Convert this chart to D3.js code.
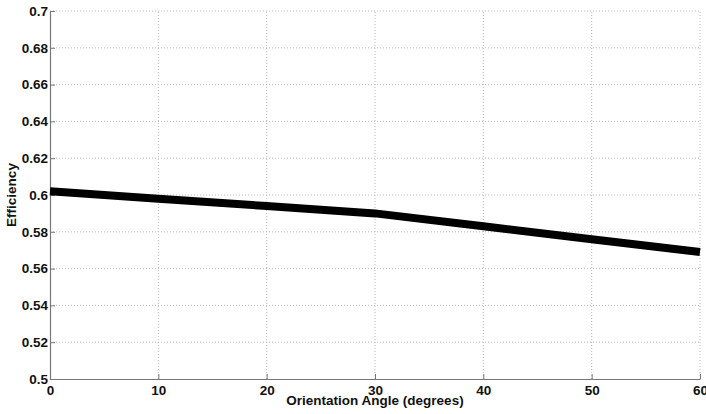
<!DOCTYPE html>
<html>
<head>
<meta charset="utf-8">
<script src="https://cdn.jsdelivr.net/npm/d3@7"></script>
<style>
  body { margin: 0; background: #fff; }
  text { font-family: "Liberation Sans", Arial, sans-serif; font-weight: bold; }
</style>
</head>
<body>
<div id="chart"></div>
<script>
var angles = [0, 10, 20, 30, 40, 50, 60];
var efficiency = [0.602, 0.598, 0.594, 0.590, 0.583, 0.576, 0.569];
var xTicks = [0, 10, 20, 30, 40, 50, 60];
var yTicks = [0.5, 0.52, 0.54, 0.56, 0.58, 0.6, 0.62, 0.64, 0.66, 0.68, 0.7];

var width = 706, height = 414;
var margin = {top: 11, right: 6, bottom: 35, left: 50};

var svg = d3.select("#chart").append("svg")
    .attr("width", width)
    .attr("height", height);

var x = d3.scaleLinear().domain([0, 60]).range([margin.left, width - margin.right]);
var y = d3.scaleLinear().domain([0.5, 0.7]).range([height - margin.bottom, margin.top]);

// grid
svg.append("g").selectAll("line")
    .data(xTicks.slice(1))
    .enter().append("line")
    .attr("x1", function(d) { return x(d); })
    .attr("x2", function(d) { return x(d); })
    .attr("y1", y(0.5))
    .attr("y2", y(0.7))
    .attr("stroke", "#bbb")
    .attr("stroke-width", 1)
    .attr("stroke-dasharray", "1,2");

svg.append("g").selectAll("line")
    .data(yTicks.slice(1))
    .enter().append("line")
    .attr("x1", x(0))
    .attr("x2", x(60))
    .attr("y1", function(d) { return y(d); })
    .attr("y2", function(d) { return y(d); })
    .attr("stroke", "#bbb")
    .attr("stroke-width", 1)
    .attr("stroke-dasharray", "1,2");

// axes
var xAxis = svg.append("g")
    .attr("transform", "translate(0," + y(0.5) + ")")
    .call(d3.axisBottom(x).tickValues(xTicks).tickSizeInner(-5).tickSizeOuter(0).tickPadding(6));

var yAxis = svg.append("g")
    .attr("transform", "translate(" + x(0) + ",0)")
    .call(d3.axisLeft(y).tickValues(yTicks).tickSizeInner(-5).tickSizeOuter(0).tickPadding(2)
        .tickFormat(function(d) { return String(+d.toFixed(2)); }));

[xAxis, yAxis].forEach(function(a) {
    a.select(".domain").attr("stroke", "#777").attr("stroke-width", 1.2);
    a.selectAll(".tick line").attr("stroke", "#777");
    a.selectAll(".tick text").attr("fill", "#111").style("font-size", "13.5px").style("font-family", "Liberation Sans, Arial, sans-serif").style("font-weight", "bold");
});

// the line
var line = d3.line()
    .x(function(d, i) { return x(angles[i]); })
    .y(function(d) { return y(d); });

svg.append("path")
    .datum(efficiency)
    .attr("d", line)
    .attr("fill", "none")
    .attr("stroke", "#000")
    .attr("stroke-width", 8);

// labels
svg.append("text")
    .attr("x", x(30))
    .attr("y", 405)
    .attr("text-anchor", "middle")
    .style("font-size", "13.5px")
    .attr("fill", "#111")
    .text("Orientation Angle (degrees)");

svg.append("text")
    .attr("transform", "translate(16," + y(0.6) + ") rotate(-90)")
    .attr("text-anchor", "middle")
    .style("font-size", "13.5px")
    .attr("fill", "#111")
    .text("Efficiency");
</script>
</body>
</html>
